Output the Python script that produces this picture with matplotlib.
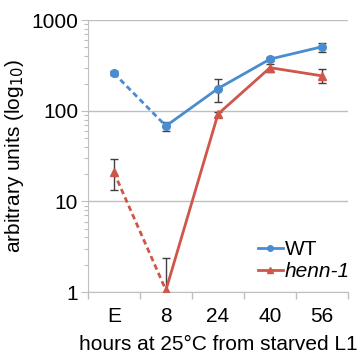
import numpy as np
import matplotlib
matplotlib.use('Agg')
import matplotlib.pyplot as plt
from matplotlib.ticker import LogLocator, NullFormatter, FixedLocator

plt.rcParams['font.family'] = ['Liberation Sans', 'DejaVu Sans']

categories = ['E', '8', '24', '40', '56']
wt = [260, 68, 176, 372, 509]
wt_lo = [248, 60, 126, 350, 447]
wt_hi = [272, 75, 225, 392, 562]
henn = [21, 1.05, 92, 299, 243]
henn_lo = [13.5, 0.5, 86, 270, 204]
henn_hi = [29.6, 2.37, 98, 330, 289]

blue = '#4A8CD0'
red = '#D0564A'
grey = '#BFBFBF'

fig = plt.figure(figsize=(3.6, 3.54), dpi=100)
ax = fig.add_axes([0.244, 0.175, 0.723, 0.768])
x = np.arange(len(categories))

for vals, lo, hi, col, mk, ms in [(wt, wt_lo, wt_hi, blue, 'o', 5.5),
                                   (henn, henn_lo, henn_hi, red, '^', 6)]:
    v = np.array(vals)
    err = [v - np.array(lo), np.array(hi) - v]
    ax.errorbar(x, v, yerr=err, fmt='none', ecolor='#404040', elinewidth=1,
                capsize=3, capthick=1, zorder=2)
    ax.plot(x[:2], v[:2], color=col, lw=2, ls=(0, (2, 1.3)), zorder=3)
    ax.plot(x[1:], v[1:], color=col, lw=2, zorder=3)
    ax.plot(x, v, ls='none', marker=mk, ms=ms, color=col, zorder=4)

# legend handles
ax.plot([], [], color=blue, lw=2, marker='o', ms=4, label='WT')
ax.plot([], [], color=red, lw=2, marker='^', ms=4, label='henn-1')
h, l = ax.get_legend_handles_labels()
leg = ax.legend(h[-2:], l[-2:], loc='lower right', bbox_to_anchor=(1.04, 0.01),
                frameon=False, fontsize=15, handlelength=1.2, handletextpad=0.1,
                labelspacing=0.15, borderaxespad=0)
leg.get_texts()[1].set_fontstyle('italic')

ax.set_yscale('log')
ax.set_ylim(1, 1000)
ax.set_xlim(-0.5, len(categories) - 0.5)
ax.set_yticks([1, 10, 100, 1000])
ax.set_yticklabels(['1', '10', '100', '1000'])
ax.yaxis.set_minor_locator(LogLocator(base=10, subs=np.arange(2, 10)))
ax.yaxis.set_minor_formatter(NullFormatter())
ax.set_xticks(x)
ax.set_xticklabels(categories)
ax.tick_params(axis='x', length=0, labelsize=15, pad=11)
ax.xaxis.set_minor_locator(FixedLocator(np.arange(-0.5, len(categories), 1)))
ax.tick_params(axis='x', which='minor', length=5, color=grey, width=1)
ax.tick_params(axis='y', which='major', length=5, color=grey, labelsize=15, pad=2)
ax.tick_params(axis='y', which='minor', length=3, color=grey, width=0.8)

ax.grid(axis='y', which='major', color=grey, lw=1)
ax.set_axisbelow(True)
for s in ['top', 'right']:
    ax.spines[s].set_visible(False)
for s in ['left', 'bottom']:
    ax.spines[s].set_color(grey)

ax.set_ylabel('arbitrary units (log$_{10}$)', fontsize=15, labelpad=4)
ax.set_xlabel('hours at 25°C from starved L1', fontsize=15, labelpad=6)

fig.savefig('out.png', dpi=100)
